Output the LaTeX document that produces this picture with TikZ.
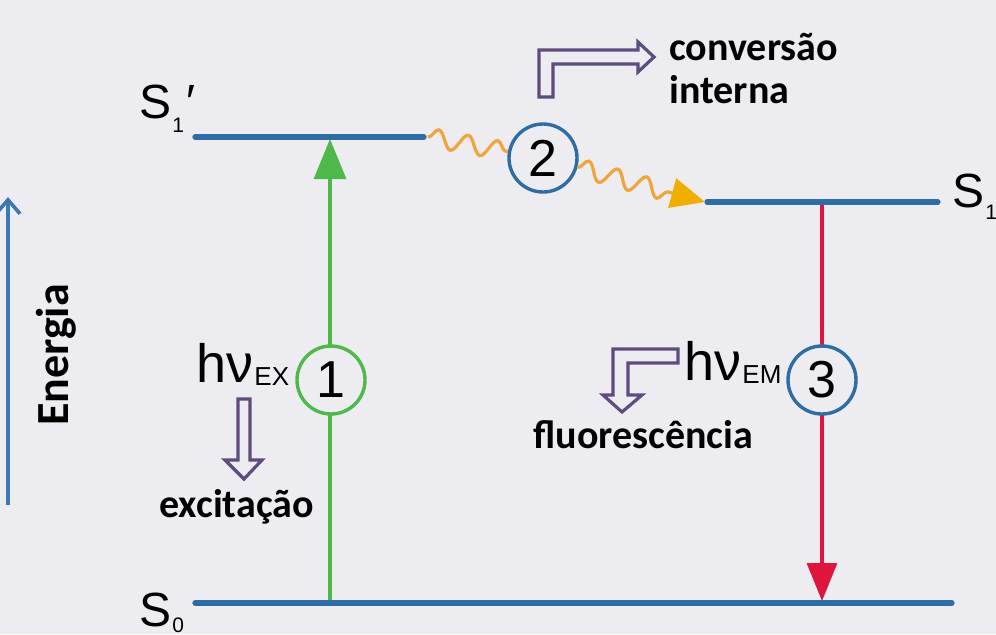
\documentclass[tikz,border=0pt]{standalone}
\usepackage{fontspec}
\setmainfont{Liberation Sans}
\newfontfamily\labfont{Carlito}
\usetikzlibrary{arrows.meta,decorations.pathmorphing}
\definecolor{bg}{RGB}{237,236,241}
\definecolor{lvl}{RGB}{46,108,164}
\definecolor{grn}{RGB}{78,184,72}
\definecolor{redc}{RGB}{222,22,62}
\definecolor{orng}{RGB}{240,165,60}
\definecolor{gold}{RGB}{240,175,0}
\definecolor{purp}{RGB}{94,76,126}
\newcommand\lowsub[2]{\raisebox{#1}{\fontsize{10.5}{10.5}\selectfont #2}}
\newcommand\nusub[1]{\raisebox{-1.5pt}{\fontsize{13}{13}\selectfont #1}}
\begin{document}
\begin{tikzpicture}[x=0.5pt,y=-0.5pt,
  level/.style={draw=lvl, line width=2.6pt, line cap=round},
  numcirc/.style={circle, draw=#1, line width=1.7pt, fill=bg, minimum size=34pt, inner sep=0pt, font=\fontsize{26}{26}\selectfont},
  lab/.style={anchor=base west, inner sep=0pt, font=\labfont\bfseries\fontsize{20}{24}\selectfont},
  statelab/.style={anchor=base west, inner sep=0pt, font=\fontsize{24}{24}\selectfont},
  hnu/.style={anchor=base west, inner sep=0pt, font=\fontsize{27}{27}\selectfont},
  hollow/.style={draw=purp, line width=1.6pt, fill=bg, line join=miter},
  wave/.style={draw=orng, line width=1.6pt, decorate, decoration={snake, amplitude=4.5pt, segment length=15pt}}]
\fill[bg] (0,0) rectangle (996,634);
\useasboundingbox (0,0) rectangle (996,634);
\clip (0,0) rectangle (996,634);

% coordinates of the levels
\coordinate (s1pL) at (195,137);
\coordinate (s1pR) at (424,137);
\coordinate (s1L) at (707,202);
\coordinate (s1R) at (938,202);
\coordinate (s0L) at (195,603);
\coordinate (s0R) at (952,603);
\coordinate (exB) at (330,603);
\coordinate (exT) at (330,139);
\coordinate (emT) at (822,202);
\coordinate (emB) at (822,601);
\coordinate (enB) at (8,505);
\coordinate (enT) at (8,197);

% energy axis
\draw[draw={rgb,255:red,60;green,120;blue,180}, line width=1.8pt, -{Straight Barb[length=7pt,width=12pt]}] (enB) -- (enT);
\node[rotate=90, inner sep=0pt, font=\labfont\bfseries\fontsize{23}{23}\selectfont] (en) at (56,355) {Energia};

% transitions
\draw[grn, line width=1.6pt, -{Triangle[length=20pt,width=16pt]}] (exB) -- (exT);
\draw[redc, line width=1.6pt, -{Triangle[length=19pt,width=15pt]}] (emT) -- (emB);

% levels
\draw[level] (s1pL) -- (s1pR);
\draw[level] (s1L) -- (s1R);
\draw[level] (s0L) -- (s0R);

% numbered circles
\node[numcirc=grn] (c1) at (331,380) {1};
\node[numcirc=lvl] (c2) at (543,158) {2};
\node[numcirc=lvl] (c3) at (822,380) {3};

% internal conversion waves
\draw[wave] ([xshift=2pt]s1pR) -- (c2);
\draw[wave, decoration={post length=17pt}, -{Triangle[length=17pt,width=15pt,color=gold]}] (c2) -- ([xshift=-1pt]s1L);

% state labels
\node[statelab] (ls1p) at (139,118) {S\kern0.5pt\lowsub{-7pt}{1}\kern1pt′};
\node[statelab] (ls1) at (952,207) {S\kern0.5pt\lowsub{-6pt}{1}};
\node[statelab] (ls0) at (139,626) {S\kern0.5pt\lowsub{-3pt}{0}};

% photon labels
\node[hnu] (hex) at (196,382) {hν\kern0.5pt\nusub{EX}};
\node[hnu] (hem) at (684,380) {hν\kern0.5pt\nusub{EM}};

% hollow arrows
\draw[hollow] (539,97) -- (539,50) -- (638,50) -- (638,42) -- (654,57) -- (638,72) -- (638,64) -- (553,64) -- (553,97) -- cycle;
\draw[hollow] (238,399) -- (250,399) -- (250,460) -- (262,460) -- (244,479) -- (225,460) -- (238,460) -- cycle;
\draw[hollow] (678,349) -- (613,349) -- (613,395) -- (603,395) -- (622,412) -- (642,395) -- (628,395) -- (628,363) -- (678,363) -- cycle;

% text labels
\node[lab] (tconv) at (669,60) {conversão};
\node[lab] (tint) at (669,103) {interna};
\node[lab] (texc) at (159,517) {excitação};
\node[lab] (tflu) at (533,448) {fluorescência};
\end{tikzpicture}
\end{document}
